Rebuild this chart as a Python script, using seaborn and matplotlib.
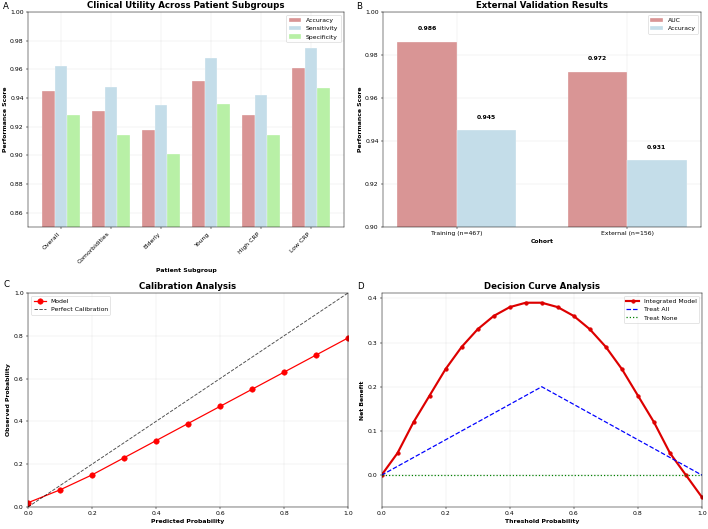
import pandas as pd
import matplotlib
matplotlib.use("Agg")
import matplotlib.pyplot as plt
import seaborn as sns

# DATA
subgroups = ['Overall', 'Comorbidities', 'Elderly', 'Young', 'High CRP', 'Low CRP']
accuracy = [0.945, 0.931, 0.918, 0.952, 0.928, 0.961]
sensitivity = [0.962, 0.948, 0.935, 0.968, 0.942, 0.975]
specificity = [0.928, 0.914, 0.901, 0.936, 0.914, 0.947]

cohorts = ['Training (n=467)', 'External (n=156)']
ext_auc = [0.986, 0.972]
ext_acc = [0.945, 0.931]

pred_prob = [0.0, 0.1, 0.2, 0.3, 0.4, 0.5, 0.6, 0.7, 0.8, 0.9, 1.0]
obs_prob = [0.02, 0.08, 0.15, 0.23, 0.31, 0.39, 0.47, 0.55, 0.63, 0.71, 0.79]
perfect = [0.0, 1.0]

thresholds = [0.0, 0.05, 0.1, 0.15, 0.2, 0.25, 0.3, 0.35, 0.4, 0.45, 0.5,
              0.55, 0.6, 0.65, 0.7, 0.75, 0.8, 0.85, 0.9, 0.95, 1.0]
nb_model = [0.0, 0.05, 0.12, 0.18, 0.24, 0.29, 0.33, 0.36, 0.38, 0.39, 0.39,
            0.38, 0.36, 0.33, 0.29, 0.24, 0.18, 0.12, 0.05, 0.0, -0.05]
treat_all_x = [0.0, 0.5, 1.0]
treat_all = [0.0, 0.2, 0.0]
treat_none = [0.0] * len(thresholds)

# long-form tables for seaborn
df_sub = pd.DataFrame({
    'Subgroup': subgroups * 3,
    'Metric': ['Accuracy'] * 6 + ['Sensitivity'] * 6 + ['Specificity'] * 6,
    'Score': accuracy + sensitivity + specificity,
})
df_ext = pd.DataFrame({
    'Cohort': cohorts * 2,
    'Metric': ['AUC'] * 2 + ['Accuracy'] * 2,
    'Score': ext_auc + ext_acc,
})

W, H = 708, 529
dpi = 44.25
fig = plt.figure(figsize=(W / dpi, H / dpi), dpi=dpi)


def rect(l, t, r, b):
    return [l / W, 1 - b / H, (r - l) / W, (b - t) / H]


axA = fig.add_axes(rect(28, 12, 344, 227))
axB = fig.add_axes(rect(383, 12, 701, 227))
axC = fig.add_axes(rect(28, 293, 348, 507))
axD = fig.add_axes(rect(381.5, 293, 702, 507))

# A - subgroups
sns.barplot(data=df_sub, x='Subgroup', y='Score', hue='Metric',
            palette=['#d99595', '#c4dde9', '#b8f0a6'], saturation=1,
            width=0.75, gap=0, edgecolor='white', linewidth=0.5, ax=axA)
axA.set_ylim(0.85, 1.0)
axA.set_xlim(-0.6625, 5.6625)
axA.set_title('Clinical Utility Across Patient Subgroups', fontsize=14, fontweight='bold')
axA.set_xlabel('Patient Subgroup', fontsize=10, fontweight='bold')
axA.set_ylabel('Performance Score', fontsize=10, fontweight='bold')
plt.setp(axA.get_xticklabels(), rotation=45, ha='right')
axA.legend(loc='upper right')
axA.grid(True, alpha=0.3)
axA.set_axisbelow(True)

# B - external validation
sns.barplot(data=df_ext, x='Cohort', y='Score', hue='Metric',
            palette=['#d99595', '#c4dde9'], saturation=1, width=0.7, gap=0,
            edgecolor='white', linewidth=0.5, ax=axB)
axB.set_ylim(0.90, 1.0)
axB.set_xlim(-0.435, 1.435)
for i in range(len(cohorts)):
    axB.text(i - 0.175, ext_auc[i] + 0.005, f'{ext_auc[i]:.3f}', ha='center',
             va='bottom', fontsize=10, fontweight='bold')
    axB.text(i + 0.175, ext_acc[i] + 0.005, f'{ext_acc[i]:.3f}', ha='center',
             va='bottom', fontsize=10, fontweight='bold')
axB.set_title('External Validation Results', fontsize=14, fontweight='bold')
axB.set_xlabel('Cohort', fontsize=10, fontweight='bold')
axB.set_ylabel('Performance Score', fontsize=10, fontweight='bold')
axB.legend(loc='upper right')
axB.grid(True, alpha=0.3)
axB.set_axisbelow(True)

# C - calibration
sns.lineplot(x=pred_prob, y=obs_prob, color='red', marker='o', markersize=9,
             markeredgecolor='red', linewidth=2, label='Model', ax=axC)
axC.plot(perfect, perfect, 'k--', alpha=0.7, linewidth=1.5, label='Perfect Calibration')
axC.set_xlim(0, 1)
axC.set_ylim(0, 1)
axC.set_title('Calibration Analysis', fontsize=14, fontweight='bold')
axC.set_xlabel('Predicted Probability', fontsize=10, fontweight='bold')
axC.set_ylabel('Observed Probability', fontsize=10, fontweight='bold')
axC.legend(loc='upper left')
axC.grid(True, alpha=0.3)

# D - decision curve
sns.lineplot(x=thresholds, y=nb_model, color='#dd0000', marker='o', markersize=6,
             markeredgecolor='#dd0000', linewidth=3.5, label='Integrated Model', ax=axD)
axD.plot(treat_all_x, treat_all, color='blue', linestyle='--', linewidth=2,
         label='Treat All')
axD.plot(thresholds, treat_none, color='green', linestyle=':', linewidth=2,
         label='Treat None')
axD.set_xlim(0, 1)
axD.set_title('Decision Curve Analysis', fontsize=14, fontweight='bold')
axD.set_xlabel('Threshold Probability', fontsize=10, fontweight='bold')
axD.set_ylabel('Net Benefit', fontsize=10, fontweight='bold')
axD.legend(loc='upper right')
axD.grid(True, alpha=0.3)

# panel letters
for ax, letter, dx, dy in [(axA, 'A', -0.08, 0.0125), (axB, 'B', -0.083, 0.0125),
                           (axC, 'C', -0.077, 0.027), (axD, 'D', -0.0755, 0.017)]:
    ax.text(dx, 1 + dy, letter, transform=ax.transAxes, fontsize=14, va='baseline')

fig.savefig('out.png', dpi=dpi)
